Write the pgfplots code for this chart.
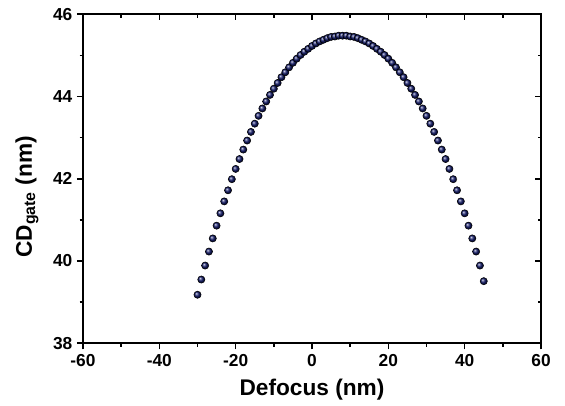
\documentclass[border=0pt]{standalone}
\usepackage{fontspec}
\setmainfont{Liberation Sans}
\usepackage{pgfplots}
\pgfplotsset{compat=1.18}
\usetikzlibrary{shadings}
\definecolor{navy}{RGB}{18,26,105}
\begin{document}
\begin{tikzpicture}
\pgfplotsset{
  base/.style={
    width=343.5pt, height=246.75pt, scale only axis,
    xmin=-60, xmax=60, ymin=38, ymax=46,
    xtick={-60,-40,...,60}, ytick={38,40,...,46},
    minor x tick num=1, minor y tick num=1,
    axis line style={line width=1.4pt},
    major tick style={line width=1.2pt, black},
    minor tick style={line width=1.2pt, black},
    major tick length=4.5pt, minor tick length=2.6pt,
    /pgf/number format/assume math mode=true,
    tick label style={font=\fontsize{13}{15}\selectfont\bfseries},
  }
}
\begin{axis}[base,
  xtick pos=bottom, ytick pos=left, tick align=outside,
  xlabel={Defocus (nm)},
  ylabel={CD\textsubscript{gate} (nm)},
  label style={font=\fontsize{17}{20}\selectfont\bfseries},
  xlabel style={at={(axis description cs:0.5,-0.095)}, anchor=north},
  ylabel style={at={(axis description cs:-0.158,0.445)}, anchor=north},
  xticklabel style={yshift=-0.5pt},
]
\coordinate (sw) at (rel axis cs:0,0);
\addplot[only marks, mark=ball, mark size=2.7pt, mark options={ball color=navy, draw=none}] coordinates {
(-30,39.18) (-29,39.55) (-28,39.89) (-27,40.23) (-26,40.55) (-25,40.86)
(-24,41.16) (-23,41.45) (-22,41.72) (-21,41.99) (-20,42.24) (-19,42.48)
(-18,42.71) (-17,42.93) (-16,43.14) (-15,43.34) (-14,43.53) (-13,43.71)
(-12,43.88) (-11,44.04) (-10,44.19) (-9,44.33) (-8,44.47) (-7,44.59)
(-6,44.71) (-5,44.82) (-4,44.92) (-3,45.01) (-2,45.09) (-1,45.16)
(0,45.23) (1,45.29) (2,45.34) (3,45.38) (4,45.42) (5,45.45)
(6,45.46) (7,45.48) (8,45.48) (9,45.48) (10,45.46) (11,45.45)
(12,45.42) (13,45.38) (14,45.34) (15,45.29) (16,45.23) (17,45.16)
(18,45.09) (19,45.01) (20,44.92) (21,44.82) (22,44.71) (23,44.59)
(24,44.47) (25,44.33) (26,44.19) (27,44.04) (28,43.88) (29,43.71)
(30,43.53) (31,43.34) (32,43.14) (33,42.93) (34,42.71) (35,42.48)
(36,42.24) (37,41.99) (38,41.72) (39,41.45) (40,41.16) (41,40.86)
(42,40.55) (43,40.23) (44,39.89) (45,39.51)
};
\end{axis}
\begin{axis}[base,
  xtick pos=top, ytick pos=right, tick align=inside,
  xticklabels={}, yticklabels={},
]
\end{axis}
\pgfresetboundingbox
\path (sw) ++(-62.25pt,-46.3pt) rectangle ++(423.75pt,303.75pt);
\end{tikzpicture}
\end{document}
